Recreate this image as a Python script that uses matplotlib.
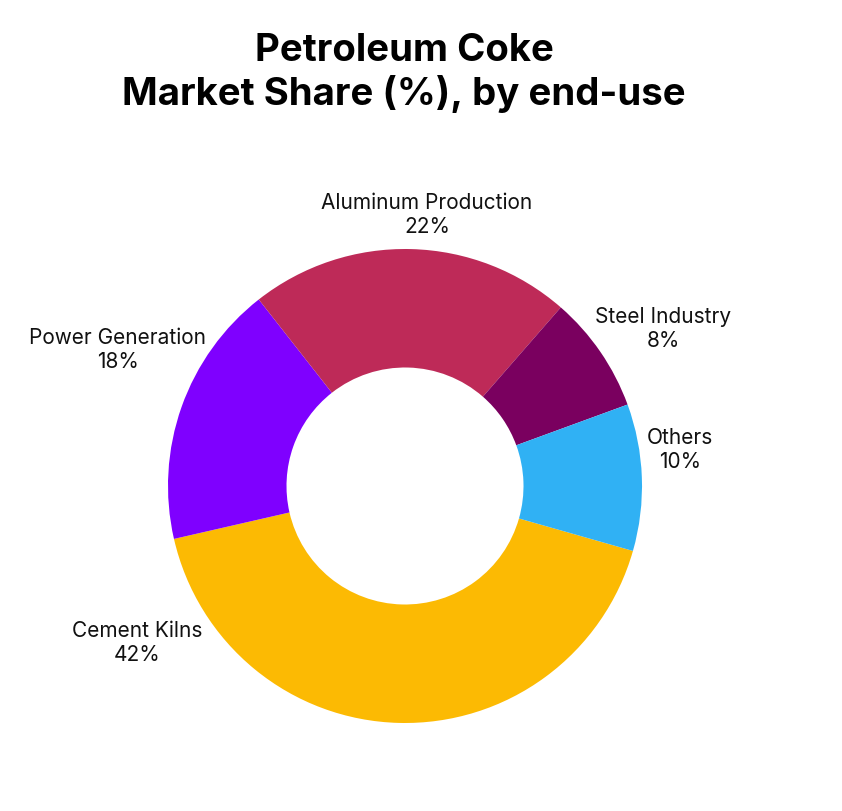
import matplotlib
matplotlib.use("Agg")
import matplotlib.pyplot as plt

categories = ["Cement Kilns", "Power Generation", "Aluminum Production", "Steel Industry", "Others"]
shares = [42, 18, 22, 8, 10]
colors = ["#FCBA03", "#7F00FF", "#BE2A58", "#7A005F", "#30B1F4"]
# label positions, in units of the outer radius, relative to the centre
label_pos = [(-1.131, -0.658), (-1.211, 0.578), (0.093, 1.148), (1.089, 0.667), (1.160, 0.156)]

W, H = 842, 812
cx, cy, R = 405, 812 - 487, 237

fig = plt.figure(figsize=(W / 100, H / 100), dpi=100)
ax = fig.add_axes([0, 0, 1, 1])
ax.pie(shares, colors=colors, startangle=-15.9, counterclock=False,
       radius=1, wedgeprops=dict(width=0.5, edgecolor="none"))
ax.set_xlim(-cx / R, (W - cx) / R)
ax.set_ylim(-cy / R, (H - cy) / R)
ax.set_aspect("equal")
ax.axis("off")

for name, val, (x, y) in zip(categories, shares, label_pos):
    ax.text(x, y, f"{name}\n{val}%", ha="center", va="center", fontsize=15,
            family=["Inter", "DejaVu Sans"], color="#111111", linespacing=1.25)

fig.text(404 / W, 1 - 73 / H, "Petroleum Coke\nMarket Share (%), by end-use",
         ha="center", va="center", fontsize=27.6, fontweight="bold",
         family=["Inter", "DejaVu Sans"], color="#000000", linespacing=1.2)

fig.savefig("out.png", dpi=100, facecolor="white")
